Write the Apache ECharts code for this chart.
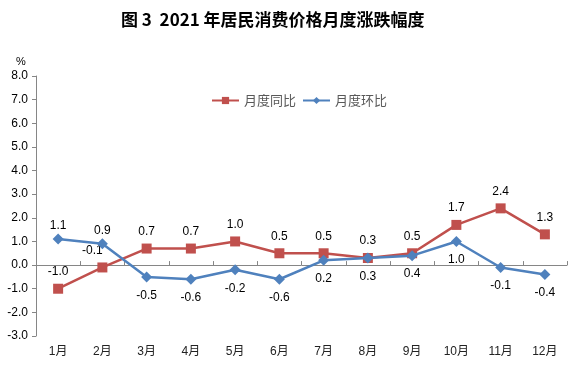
<!DOCTYPE html>
<html>
<head>
<meta charset="utf-8">
<script src="https://cdn.jsdelivr.net/npm/echarts@6/dist/echarts.min.js"></script>
<style>
html,body{margin:0;padding:0;background:#fff;}
#chart{width:568px;height:365px;}
</style>
</head>
<body>
<div id="chart"></div>
<script>
const categories = ['1月','2月','3月','4月','5月','6月','7月','8月','9月','10月','11月','12月'];
const yoyValues = [-1.0, -0.1, 0.7, 0.7, 1.0, 0.5, 0.5, 0.3, 0.5, 1.7, 2.4, 1.3];
const momValues = [1.1, 0.9, -0.5, -0.6, -0.2, -0.6, 0.2, 0.3, 0.4, 1.0, -0.1, -0.4];
const momLabelTop = [true, true, false, false, false, false, false, false, false, false, false, false];
const yTicks = { min: -3, max: 8, interval: 1 };

const chart = echarts.init(document.getElementById('chart'), null, {renderer: 'canvas'});
const fontFam = 'Arial, "Liberation Sans", "Noto Sans CJK SC", sans-serif';

const momData = momValues.map((v, i) => ({
  value: v,
  label: {
    position: momLabelTop[i] ? 'top' : 'bottom',
    distance: momLabelTop[i] ? 2 : 7
  }
}));
const yoyData = yoyValues.map((v, i) => (i === 1 ? {value: v, label: {offset: [-10, 0]}} : v));

chart.setOption({
  animation: false,
  backgroundColor: '#fff',
  title: {
    text: '图 3  2021 年居民消费价格月度涨跌幅度',
    left: 116,
    top: 6,
    textStyle: {fontSize: 17, fontWeight: 'bold', color: '#000', fontFamily: '"Noto Sans CJK SC", sans-serif'}
  },
  graphic: [{
    type: 'text', left: 16, top: 56,
    style: {text: '%', fontSize: 11, fill: '#000', font: '11px Arial, "Liberation Sans", sans-serif'}
  }],
  legend: {
    left: 206,
    top: 89,
    itemWidth: 27,
    itemHeight: 9,
    itemGap: 6,
    textStyle: {fontSize: 13, color: '#595959', fontFamily: '"Noto Sans CJK SC", sans-serif'},
    data: ['月度同比', '月度环比']
  },
  grid: {left: 36, right: 1, top: 76, bottom: 29, containLabel: false},
  xAxis: {
    type: 'category',
    data: categories,
    boundaryGap: true,
    axisLine: {lineStyle: {color: '#868686', width: 1}},
    axisTick: {show: true, inside: true, length: 4, alignWithLabel: false, lineStyle: {color: '#868686'}},
    axisLabel: {color: '#222', fontSize: 12, margin: 10, fontFamily: fontFam}
  },
  yAxis: {
    type: 'value',
    min: yTicks.min, max: yTicks.max, interval: yTicks.interval,
    axisLine: {show: true, lineStyle: {color: '#868686', width: 1}},
    axisTick: {show: true, inside: false, length: 4, lineStyle: {color: '#868686'}},
    splitLine: {show: false},
    axisLabel: {color: '#000', fontSize: 12, margin: 8, fontFamily: fontFam, formatter: v => v.toFixed(1)}
  },
  series: [
    {
      name: '月度同比',
      type: 'line',
      data: yoyData,
      symbol: 'rect',
      symbolSize: 10,
      color: '#C0504D',
      lineStyle: {width: 2.5, color: '#C0504D'},
      itemStyle: {color: '#C0504D'},
      label: {show: true, position: 'top', distance: 6, color: '#000', fontSize: 12, fontFamily: fontFam, formatter: p => p.value.toFixed(1)},
      z: 2
    },
    {
      name: '月度环比',
      type: 'line',
      data: momData,
      symbol: 'diamond',
      symbolSize: 11,
      color: '#4F81BD',
      lineStyle: {width: 2.5, color: '#4F81BD'},
      itemStyle: {color: '#4F81BD'},
      label: {show: true, color: '#000', fontSize: 12, fontFamily: fontFam, formatter: p => p.value.toFixed(1)},
      z: 3
    }
  ]
});
</script>
</body>
</html>
